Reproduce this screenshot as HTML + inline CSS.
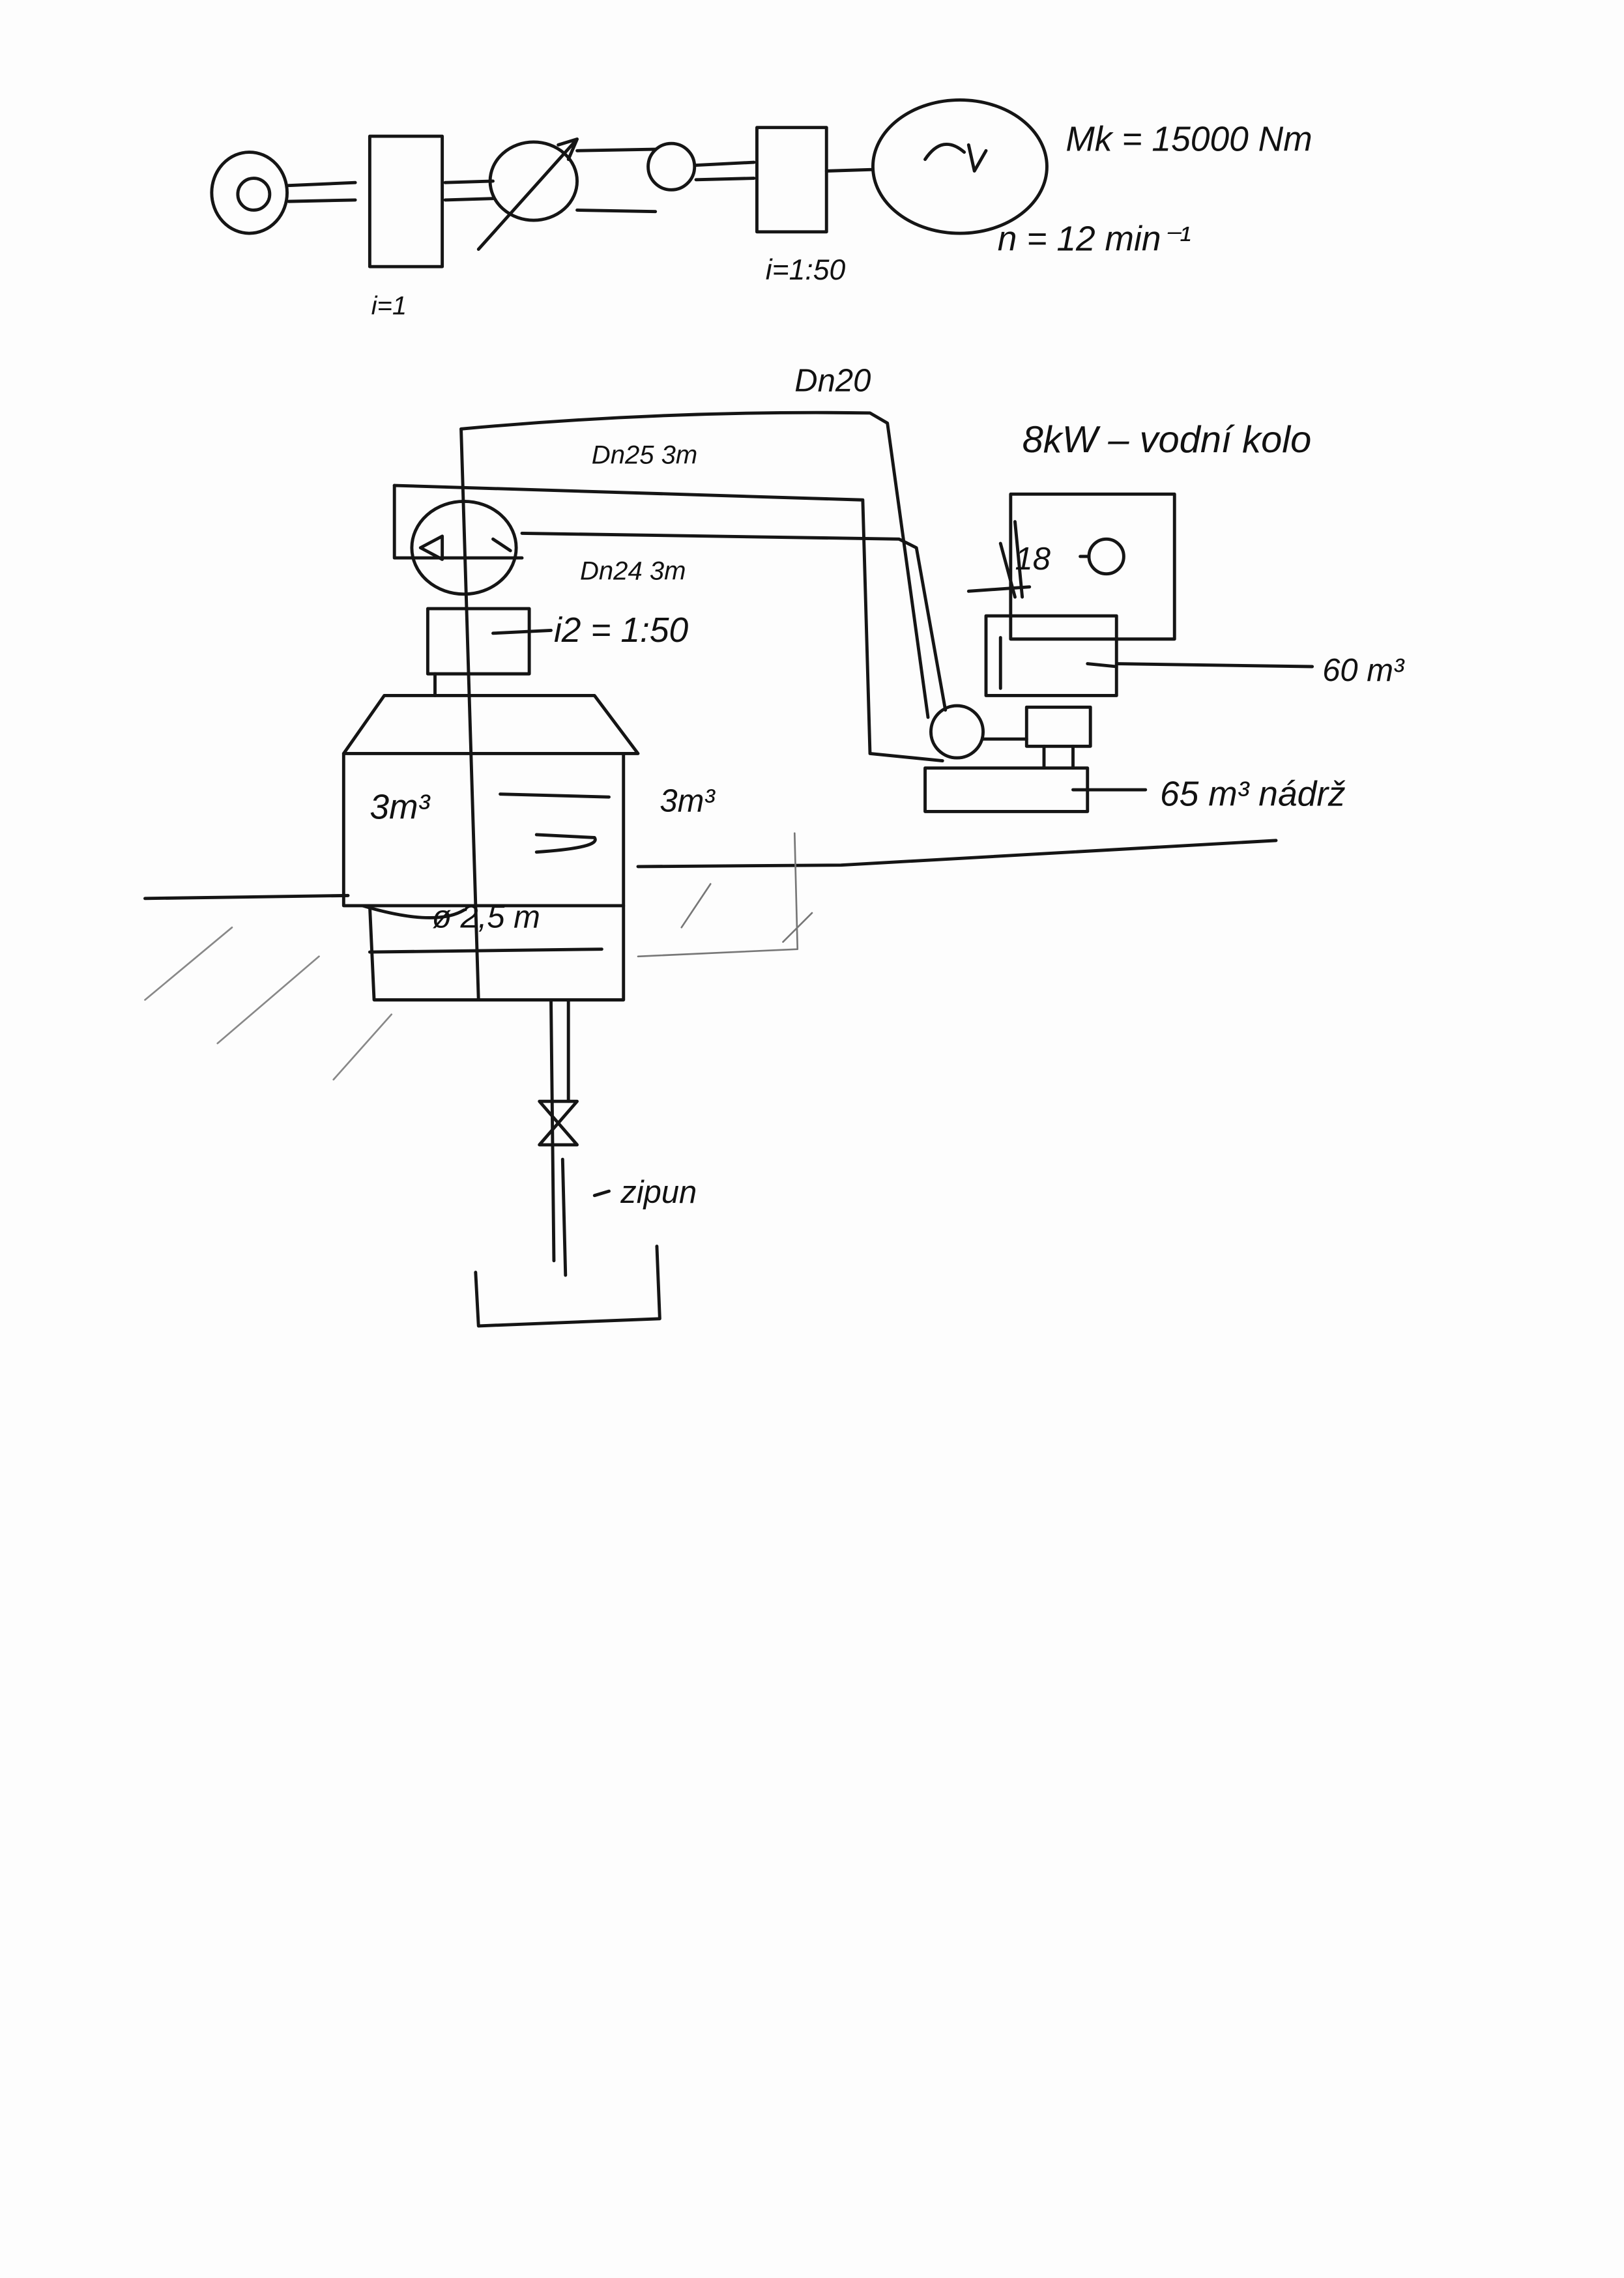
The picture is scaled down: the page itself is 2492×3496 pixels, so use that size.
<!DOCTYPE html>
<html><head><meta charset="utf-8"><style>
html,body{margin:0;padding:0;background:#fdfdfd;}
svg{display:block;}
text{font-family:"Liberation Sans",sans-serif;fill:#111;}
</style></head><body>
<svg width="2492" height="3496" viewBox="0 0 1120 1572" preserveAspectRatio="none" xmlns="http://www.w3.org/2000/svg">
<rect width="1120" height="1572" fill="#fdfdfd"/>
<g fill="none" stroke="#151515" stroke-width="2.2" stroke-linecap="round" stroke-linejoin="round">
<!-- top drive chain -->
<ellipse cx="172" cy="133" rx="26" ry="28"/>
<circle cx="175" cy="134" r="11"/>
<path d="M199 128 L245 126 M199 139 L245 138"/>
<rect x="255" y="94" width="50" height="90"/>
<path d="M307 126 L340 125 M307 138 L340 137"/>
<ellipse cx="368" cy="125" rx="30" ry="27"/>
<path d="M330 172 L398 96 M385 100 L398 96 L392 110"/>
<path d="M398 104 L452 103 M398 145 L452 146"/>
<circle cx="463" cy="115" r="16"/>
<path d="M480 114 L520 112 M480 124 L520 123"/>
<rect x="522" y="88" width="48" height="72"/>
<path d="M570 118 L602 117"/>
<ellipse cx="662" cy="115" rx="60" ry="46"/>
<path d="M638 110 Q650 92 665 105 M668 100 L672 118 L680 104"/>
<!-- lower diagram pipes -->
<path d="M318 296 Q460 283 600 285 L612 292 L640 495"/>
<path d="M272 335 L595 345 L600 520 L650 525"/>
<path d="M272 335 L272 385 L360 385"/>
<path d="M360 368 L620 372 L632 378 L652 490"/>
<ellipse cx="320" cy="378" rx="36" ry="32"/>
<path d="M290 378 L305 370 L305 386 Z M340 372 L352 380"/>
<path d="M318 296 L330 690"/>
<rect x="295" y="420" width="70" height="45"/>
<path d="M340 437 L380 435 M300 465 L300 480"/>
<!-- tank -->
<path d="M265 480 L410 480 L440 520 L237 520 L265 480"/>
<path d="M237 520 L237 625 L430 625 L430 520"/>
<path d="M255 625 L258 690 L430 690 L430 625"/>
<path d="M345 548 L420 550 M370 576 L410 578 Q415 585 370 588"/>
<path d="M250 625 Q300 640 320 628 M255 657 L415 655"/>
<path d="M100 620 L240 618 M440 598 L580 597 L880 580"/>
<path d="M380 690 L382 870 M392 690 L392 760"/>
<path d="M372 760 L398 790 L372 790 L398 760 Z"/>
<path d="M388 800 L390 880 M410 825 L420 822"/>
<path d="M328 878 L330 915 L455 910 L453 860"/>
<!-- dashed sketch lines -->
<path d="M440 660 L550 655 L548 575 M470 640 L490 610 M540 650 L560 630" stroke-width="1.2" stroke="#777"/>
<path d="M100 690 L160 640 M150 720 L220 660 M230 745 L270 700" stroke-width="1.2" stroke="#888"/>
<!-- right side -->
<rect x="697" y="341" width="113" height="100"/>
<path d="M668 408 L710 405 M690 375 L700 412 M700 360 L705 412"/>
<circle cx="763" cy="384" r="12"/>
<path d="M745 384 L751 384"/>
<rect x="680" y="425" width="90" height="55"/>
<path d="M690 440 L690 475 M770 458 L905 460 M750 458 L770 460"/>
<circle cx="660" cy="505" r="18"/>
<rect x="708" y="488" width="44" height="27"/>
<path d="M678 510 L708 510 M720 515 L720 530 M740 515 L740 530"/>
<rect x="638" y="530" width="112" height="30"/>
<path d="M740 545 L790 545"/>
</g>
<g font-size="24" font-style="italic">
<text x="735" y="104">Mk = 15000 Nm</text>
<text x="688" y="173">n = 12 min⁻¹</text>
<text x="528" y="193" font-size="20">i=1:50</text>
<text x="256" y="217" font-size="18">i=1</text>
<text x="548" y="270" font-size="22">Dn20</text>
<text x="408" y="320" font-size="18">Dn25 3m</text>
<text x="400" y="400" font-size="18">Dn24 3m</text>
<text x="382" y="443" font-size="24">i2 = 1:50</text>
<text x="255" y="565" font-size="24">3m³</text>
<text x="455" y="560" font-size="22">3m³</text>
<text x="298" y="640" font-size="22">ø 2,5 m</text>
<text x="428" y="830" font-size="22">zipun</text>
<text x="705" y="312" font-size="26">8kW – vodní kolo</text>
<text x="700" y="393" font-size="22">18</text>
<text x="912" y="470" font-size="22">60 m³</text>
<text x="800" y="556" font-size="24">65 m³ nádrž</text>
</g>
</svg>
</body></html>
